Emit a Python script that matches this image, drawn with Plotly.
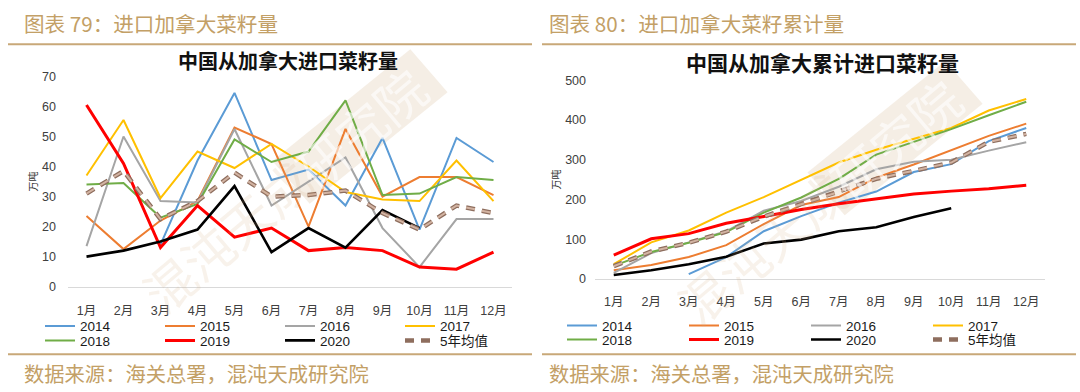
import math
import plotly.graph_objects as go

# ---------------- data ----------------
months = ["1月", "2月", "3月", "4月", "5月", "6月", "7月", "8月", "9月", "10月", "11月", "12月"]

# monthly imports (万吨)
m2014 = [None, None, 14, 42, 64.5, 35.5, 39, 27, 49.5, 19, 49.5, 41.5]
m2015 = [23.5, 12.5, 22, 28.5, 53, 47.5, 20, 52.5, 30, 36.5, 36.5, 30.5]
m2016 = [13.5, 50, 28.5, 28, 52.5, 27, 35, 43, 19.5, 6.5, 22.5, 22.5]
m2017 = [37, 55.5, 29.5, 45, 39.5, 47.5, 40, 31.5, 29, 28.5, 42, 28.5]
m2018 = [34, 34.5, 23, 27.5, 49, 41.5, 45, 62, 30.5, 31, 36.5, 35.5]
m2019 = [60.5, 41, 13, 27, 16.5, 19.5, 12, 13, 12, 6.5, 5.8, 11.5]
m2020 = [10, 12, 15, 19, 33.5, 11.5, 19.5, 13, 25.5, 19.5, None, None]
mavg = [31, 38.5, 22.5, 28.5, 38, 30, 30.5, 32, 24.5, 19, 27, 24.5]

# cumulative imports (万吨)
c2014 = [None, None, 12, 55, 120, 158, 192, 220, 269, 289, 347, 380]
c2015 = [22, 35, 55, 85, 138, 186, 206, 255, 288, 325, 360, 391]
c2016 = [15, 65, 92, 120, 172, 196, 232, 276, 295, 300, 323, 344]
c2017 = [37, 92, 122, 167, 206, 250, 293, 325, 352, 380, 424, 453]
c2018 = [33, 68, 91, 118, 167, 205, 252, 313, 345, 377, 412, 446]
c2019 = [60, 101, 114, 140, 157, 175, 189, 202, 214, 221, 227, 236]
c2020 = [10, 22, 37, 56, 89, 99, 120, 130, 156, 178, None, None]
cavg = [32, 69, 91, 119, 157, 188, 219, 252, 272, 293, 345, 365]

names = ["2014", "2015", "2016", "2017", "2018", "2019", "2020"]
monthly = [m2014, m2015, m2016, m2017, m2018, m2019, m2020]
cumul = [c2014, c2015, c2016, c2017, c2018, c2019, c2020]
colors = ["#5b9bd5", "#ed7d31", "#a5a5a5", "#ffc000", "#70ad47", "#ff0000", "#000000"]
widths = [2, 2, 2, 2, 2, 3, 2.6]
avg_name = "5年均值"

left_title = "中国从加拿大进口菜籽量"
right_title = "中国从加拿大累计进口菜籽量"
left_header = "图表 79：进口加拿大菜籽量"
right_header = "图表 80：进口加拿大菜籽累计量"
source = "数据来源：海关总署，混沌天成研究院"
unit = "万吨"
wm_a = "混沌天成"
wm_b = "研究院"

# ---------------- layout helpers ----------------
W, H = 1080, 392
def px(x):
    return x / W
def py(y):
    return 1 - y / H

GOLD = "#c3a066"
FONT = "Liberation Sans, Arial, Noto Sans CJK SC"
CJK = "Noto Sans CJK SC"

fig = go.Figure()

for i, (nm, m, c, col, w) in enumerate(zip(names, monthly, cumul, colors, widths)):
    row1 = i < 4
    fig.add_trace(go.Scatter(x=months, y=m, mode="lines", name=nm,
                             line=dict(color=col, width=w),
                             xaxis="x", yaxis="y",
                             legend="legend" if row1 else "legend2"))
    fig.add_trace(go.Scatter(x=months, y=c, mode="lines", name=nm,
                             line=dict(color=col, width=w),
                             xaxis="x2", yaxis="y2",
                             legend="legend3" if row1 else "legend4"))

# 5-year average: outlined dashes
for vals, xa, ya, lg in [(mavg, "x", "y", "legend2"), (cavg, "x2", "y2", "legend4")]:
    fig.add_trace(go.Scatter(x=months, y=vals, mode="lines", name=avg_name,
                             line=dict(color="#8e6e5e", width=4.5, dash="9px,7px"),
                             xaxis=xa, yaxis=ya, legend=lg))
    fig.add_trace(go.Scatter(x=months, y=vals, mode="lines", name=avg_name,
                             line=dict(color="#d2b3a2", width=2, dash="9px,7px"),
                             xaxis=xa, yaxis=ya, legend=lg, showlegend=False))

axis_font = dict(family=FONT, size=12.5, color="#404040")
xcommon = dict(type="category", range=[-0.5, 11.5], showline=True, linecolor="#d9d9d9",
               linewidth=1, ticks="", showgrid=False, zeroline=False,
               tickfont=axis_font, fixedrange=True)
ycommon = dict(showgrid=False, zeroline=False, showline=False, ticks="",
               tickfont=axis_font, fixedrange=True)
unit_title = dict(text=unit, font=dict(family=CJK, size=10, color="#333333"), standoff=2)

legend_common = dict(orientation="h", xanchor="left", yanchor="middle",
                     font=dict(family=FONT, size=13.5, color="#1a1a1a"),
                     bgcolor="rgba(0,0,0,0)", itemwidth=30, tracegroupgap=0,
                     itemclick=False, itemdoubleclick=False)

fig.update_layout(
    width=W, height=H,
    margin=dict(l=0, r=0, t=0, b=0),
    paper_bgcolor="white", plot_bgcolor="rgba(0,0,0,0)",
    showlegend=True,
    xaxis=dict(domain=[px(68), px(512)], anchor="y", ticklabelstandoff=12, **xcommon),
    yaxis=dict(domain=[py(290), py(72)], anchor="x", range=[0, 70], dtick=10,
               ticklabelstandoff=11, title=unit_title, **ycommon),
    xaxis2=dict(domain=[px(595), px(1045)], anchor="y2", ticklabelstandoff=11, **xcommon),
    yaxis2=dict(domain=[py(282), py(76)], anchor="x2", range=[0, 500], dtick=100,
                ticklabelstandoff=8, title=unit_title, **ycommon),
    legend=dict(x=px(40), y=py(331), entrywidth=75, **legend_common),
    legend2=dict(x=px(40), y=py(346), entrywidth=75, **legend_common),
    legend3=dict(x=px(562), y=py(330.5), entrywidth=77, **legend_common),
    legend4=dict(x=px(562), y=py(345), entrywidth=77, **legend_common),
)

# watermark geometry (diagonal, rising to the right)
ang = 40.0
dx, dy = math.cos(math.radians(ang)), -math.sin(math.radians(ang))
wm_size = 50
shapes = []
annotations = []
for bx, by in [(360, 124), (895, 136)]:
    # pale band behind "研究院"
    half_len, half_w = 1.8 * wm_size, 0.58 * wm_size
    nx, ny = -dy, dx  # perpendicular
    corners = [
        (bx - half_len * dx - half_w * nx, by - half_len * dy - half_w * ny),
        (bx + half_len * dx - half_w * nx, by + half_len * dy - half_w * ny),
        (bx + half_len * dx + half_w * nx, by + half_len * dy + half_w * ny),
        (bx - half_len * dx + half_w * nx, by - half_len * dy + half_w * ny),
    ]
    path = "M " + " L ".join(f"{px(cx):.5f},{py(cy):.5f}" for cx, cy in corners) + " Z"
    shapes.append(dict(type="path", path=path, xref="paper", yref="paper", layer="below",
                       fillcolor="rgba(232,218,198,0.45)", line=dict(width=0)))
    annotations.append(dict(text=wm_b, x=px(bx), y=py(by), textangle=-ang,
                            xanchor="center", yanchor="middle",
                            font=dict(family=CJK, size=wm_size, color="rgba(255,255,255,0.6)")))
    ax, ay = bx - 3.5 * wm_size * dx, by - 3.5 * wm_size * dy
    annotations.append(dict(text=wm_a, x=px(ax), y=py(ay), textangle=-ang,
                            xanchor="center", yanchor="middle",
                            font=dict(family=CJK, size=wm_size, color="rgba(210,175,130,0.16)")))

annotations += [
    dict(text=left_header, x=px(22), y=py(17), xanchor="left", yanchor="middle",
         font=dict(family=CJK, size=20.6, color=GOLD)),
    dict(text=right_header, x=px(547), y=py(17), xanchor="left", yanchor="middle",
         font=dict(family=CJK, size=20.6, color=GOLD)),
    dict(text=source, x=px(22), y=py(380), xanchor="left", yanchor="middle",
         font=dict(family=CJK, size=20.3, color=GOLD)),
    dict(text=source, x=px(547), y=py(380), xanchor="left", yanchor="middle",
         font=dict(family=CJK, size=20.3, color=GOLD)),
    dict(text="<b>" + left_title + "</b>", x=px(288), y=py(56), xanchor="center", yanchor="middle",
         font=dict(family=CJK, size=20, color="#111111")),
    dict(text="<b>" + right_title + "</b>", x=px(822), y=py(57), xanchor="center", yanchor="middle",
         font=dict(family=CJK, size=21, color="#111111")),
]
for a in annotations:
    a.update(xref="paper", yref="paper", showarrow=False)

for x0, x1 in [(8, 532), (542, 1076)]:
    for yy in (38.5, 360):
        shapes.append(dict(type="line", xref="paper", yref="paper",
                           x0=px(x0), x1=px(x1), y0=py(yy), y1=py(yy),
                           line=dict(color="#c8a878", width=2)))
fig.update_layout(shapes=shapes, annotations=annotations)

fig.write_html("out.html", config={"displayModeBar": False},
               post_script="document.body.style.margin='0';document.body.style.overflow='hidden';")
